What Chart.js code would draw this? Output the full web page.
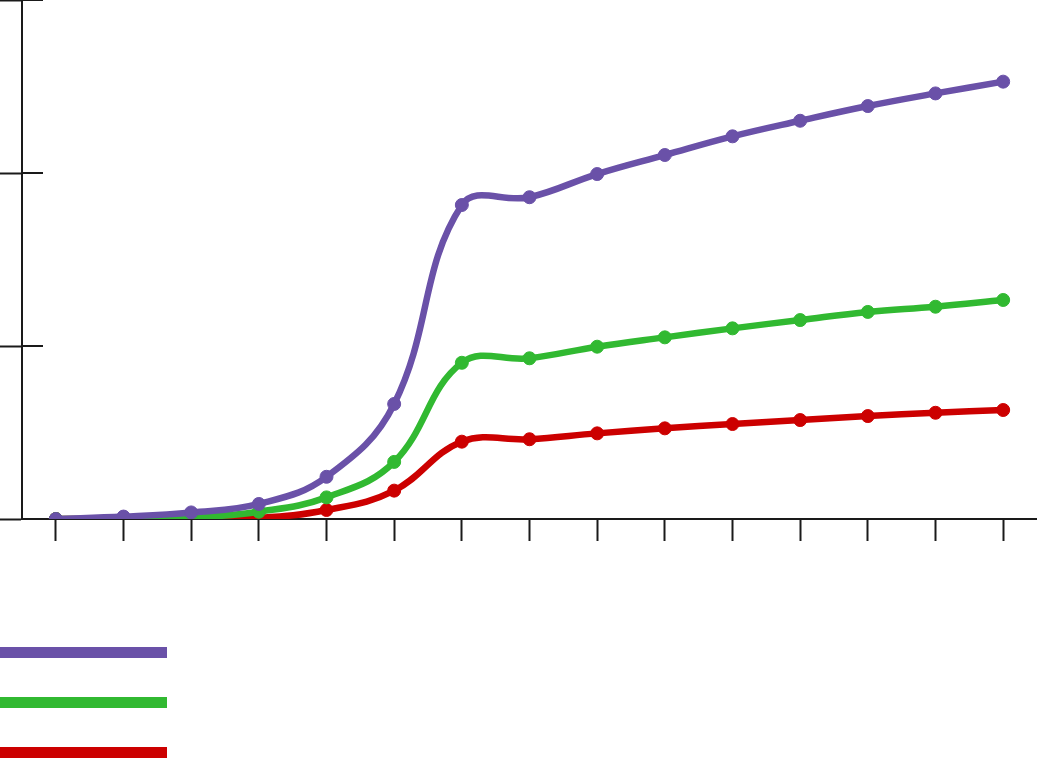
<!DOCTYPE html>
<html>
<head>
<meta charset="utf-8">
<script src="https://cdn.jsdelivr.net/npm/chart.js@4"></script>
<style>
  html, body { margin: 0; padding: 0; background: #fff; }
  #wrap { width: 1037px; height: 758px; }
</style>
</head>
<body>
<div id="wrap"><canvas id="myChart"></canvas></div>
<script>
let labels = ['1', '2', '3', '4', '5', '6', '7', '8', '9', '10', '11', '12', '13', '14', '15'];
let purpleData = [0, 0.14, 0.38, 0.87, 2.44, 6.65, 18.15, 18.6, 19.94, 21.04, 22.12, 23.02, 23.87, 24.6, 25.28];
let greenData = [0, 0.02, 0.08, 0.42, 1.25, 3.3, 9.03, 9.29, 9.96, 10.5, 11.02, 11.5, 11.97, 12.27, 12.66];
let redData = [0, 0, 0.02, 0.06, 0.52, 1.64, 4.47, 4.61, 4.95, 5.24, 5.49, 5.72, 5.95, 6.14, 6.3];
let yTicks = [0, 10, 20, 30];
let colors = ['#6a51a8', '#31b931', '#cc0000'];

// inner half of the y ticks and the plain colour legend under the chart
let extras = {
    id: 'extras',
    afterDraw(chart) {
        let ctx = chart.ctx;
        let y = chart.scales.y;
        ctx.save();
        ctx.strokeStyle = '#1a1a1a';
        ctx.lineWidth = 2;
        yTicks.forEach(v => {
            let py = Math.round(y.getPixelForValue(v));
            ctx.beginPath();
            ctx.moveTo(y.right, py);
            ctx.lineTo(y.right + 21, py);
            ctx.stroke();
        });
        chart.data.datasets.forEach((ds, i) => {
            ctx.fillStyle = ds.borderColor;
            ctx.fillRect(0, 647 + i * 50, 167, 11);
        });
        ctx.restore();
    }
};

function line(data, color) {
    return {
        data: data,
        borderColor: color,
        backgroundColor: color,
        pointBackgroundColor: color,
        pointBorderColor: color,
        borderWidth: 6.5,
        pointRadius: 6.5,
        pointBorderWidth: 1,
        tension: 0.4,
        fill: false
    };
}

let myChart = new Chart(document.getElementById('myChart').getContext('2d'), {
    type: 'line',
    data: {
        labels: labels,
        datasets: [
            line(purpleData, colors[0]),
            line(greenData, colors[1]),
            line(redData, colors[2])
        ]
    },
    options: {
        responsive: true,
        maintainAspectRatio: false,
        animation: false,
        devicePixelRatio: 1,
        layout: { autoPadding: false, padding: { top: 0, left: 0, right: 0, bottom: 217 } },
        plugins: { legend: { display: false }, tooltip: { enabled: false } },
        scales: {
            x: {
                offset: true,
                ticks: { display: false },
                grid: { drawOnChartArea: false, tickLength: 22, tickWidth: 2, tickColor: '#1a1a1a', offset: false },
                border: { color: '#1a1a1a', width: 2 }
            },
            y: {
                min: 0,
                max: 30,
                ticks: { display: false, stepSize: 10 },
                grid: { drawOnChartArea: false, tickLength: 22, tickWidth: 2, tickColor: '#1a1a1a' },
                border: { color: '#1a1a1a', width: 2 }
            }
        }
    },
    plugins: [extras]
});
</script>
</body>
</html>
